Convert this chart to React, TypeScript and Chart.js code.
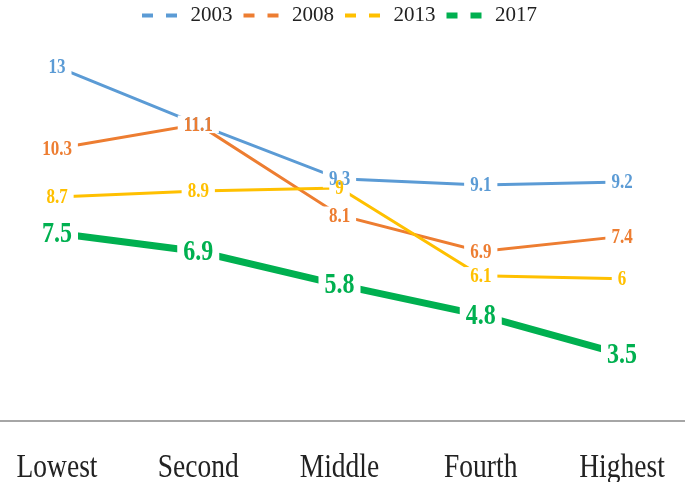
import React, { useEffect, useRef } from 'react'
import Chart, { registerables } from 'chart.js/auto'

const FONT = '"Liberation Serif", "Times New Roman", serif'

const categories = ['Lowest', 'Second', 'Middle', 'Fourth', 'Highest']
const seriesNames = ['2003', '2008', '2013', '2017']
const values2003 = [13, 11.1, 9.3, 9.1, 9.2]
const values2008 = [10.3, 11.1, 8.1, 6.9, 7.4]
const values2013 = [8.7, 8.9, 9, 6.1, 6]
const values2017 = [7.5, 6.9, 5.8, 4.8, 3.5]

const colors = ['#5B9BD5', '#ED7D31', '#FFC000', '#00B050']
const lineWidths = [3, 3, 3, 7]
const legendWidths = [4, 4, 4, 6]
const labelSizes = [17, 17, 17, 24]
const TEXT_STRETCH = 1.2 // the source picture has tall, narrow lettering

// data labels centred on the points, with a white box that breaks the line
const pointLabels = {
  id: 'pointLabels',
  afterDatasetsDraw(chart: any) {
    const ctx = chart.ctx
    const items: any[] = []
    chart.data.datasets.forEach((ds: any, i: number) => {
      const meta = chart.getDatasetMeta(i)
      meta.data.forEach((pt: any, j: number) => {
        items.push({ x: pt.x, y: pt.y, text: String(ds.data[j]), color: ds.borderColor, size: labelSizes[i] })
      })
    })
    ctx.save()
    ctx.textAlign = 'center'
    ctx.textBaseline = 'middle'
    items.forEach((it) => {
      ctx.font = `bold ${it.size}px ${FONT}`
      const w = ctx.measureText(it.text).width
      const h = it.size * 0.85 * TEXT_STRETCH
      ctx.fillStyle = '#ffffff'
      ctx.fillRect(it.x - w / 2 - 6, it.y - h / 2, w + 12, h)
    })
    items.forEach((it) => {
      ctx.save()
      ctx.font = `bold ${it.size}px ${FONT}`
      ctx.fillStyle = it.color
      ctx.translate(it.x, it.y)
      ctx.scale(1, TEXT_STRETCH)
      ctx.fillText(it.text, 0, 1)
      ctx.restore()
    })
    ctx.restore()
  }
}

// category names under the axis, drawn at the x scale's tick positions
const categoryLabels = {
  id: 'categoryLabels',
  afterDraw(chart: any) {
    const ctx = chart.ctx
    const scale = chart.scales.x
    const baseline = chart.chartArea.bottom + 56
    ctx.save()
    ctx.font = `27.5px ${FONT}`
    ctx.fillStyle = '#222222'
    ctx.textAlign = 'center'
    ctx.textBaseline = 'alphabetic'
    scale.ticks.forEach((_t: any, i: number) => {
      ctx.save()
      ctx.translate(scale.getPixelForTick(i), baseline)
      ctx.scale(1, TEXT_STRETCH)
      ctx.fillText(String(chart.data.labels[i]), 0, 0)
      ctx.restore()
    })
    ctx.restore()
  }
}

// gray category axis line running across the whole picture
const axisLine = {
  id: 'axisLine',
  beforeDatasetsDraw(chart: any) {
    const ctx = chart.ctx
    const y = chart.chartArea.bottom
    ctx.save()
    ctx.strokeStyle = '#a6a6a6'
    ctx.lineWidth = 2
    ctx.beginPath()
    ctx.moveTo(0, y)
    ctx.lineTo(chart.width, y)
    ctx.stroke()
    ctx.restore()
  }
}

const App: React.FC = () => {
  const chartRef = useRef<HTMLCanvasElement | null>(null)
  const chartInstance = useRef<Chart | null>(null)

  useEffect(() => {
    Chart.register(...registerables)
    if (chartRef.current === null) return
    const ctx = chartRef.current.getContext('2d')
    if (ctx === null) return

    const series = [values2003, values2008, values2013, values2017]

    chartInstance.current = new Chart(ctx, {
      type: 'line',
      data: {
        labels: categories,
        datasets: series.map((d, i) => ({
          label: seriesNames[i],
          data: d,
          borderColor: colors[i],
          backgroundColor: colors[i],
          borderWidth: lineWidths[i],
          pointRadius: 0,
          tension: 0,
          fill: false,
          order: 3 - i
        }))
      },
      options: {
        responsive: false,
        animation: false,
        layout: { padding: { left: 57, right: 63, top: -6, bottom: 0 } },
        plugins: {
          tooltip: { enabled: false },
          legend: {
            position: 'top',
            labels: {
              usePointStyle: true,
              pointStyleWidth: 38,
              padding: 11,
              color: '#222222',
              font: { family: FONT, size: 21 },
              generateLabels: (chart: any) =>
                chart.data.datasets.map((ds: any, i: number) => ({
                  text: ds.label,
                  fillStyle: colors[i],
                  strokeStyle: colors[i],
                  lineWidth: legendWidths[i],
                  lineDash: [11, 13],
                  lineCap: 'butt',
                  pointStyle: 'line',
                  fontColor: '#222222',
                  hidden: false,
                  datasetIndex: i
                }))
            }
          }
        },
        scales: {
          x: {
            offset: false,
            grid: { display: false },
            border: { display: false },
            afterFit: (scale: any) => {
              scale.height = 61
            },
            ticks: { display: false }
          },
          y: {
            display: false,
            min: 1.3,
            max: 14.02
          }
        }
      },
      plugins: [axisLine, pointLabels, categoryLabels]
    })

    return () => {
      if (chartInstance.current !== null) {
        chartInstance.current.destroy()
        chartInstance.current = null
      }
    }
  }, [])

  return (
    <div style={{ position: 'absolute', left: 0, top: 0, width: 685, height: 482, background: '#fff' }}>
      <canvas ref={chartRef} width={685} height={482} style={{ display: 'block', width: 685, height: 482 }} />
    </div>
  )
}

export default App
